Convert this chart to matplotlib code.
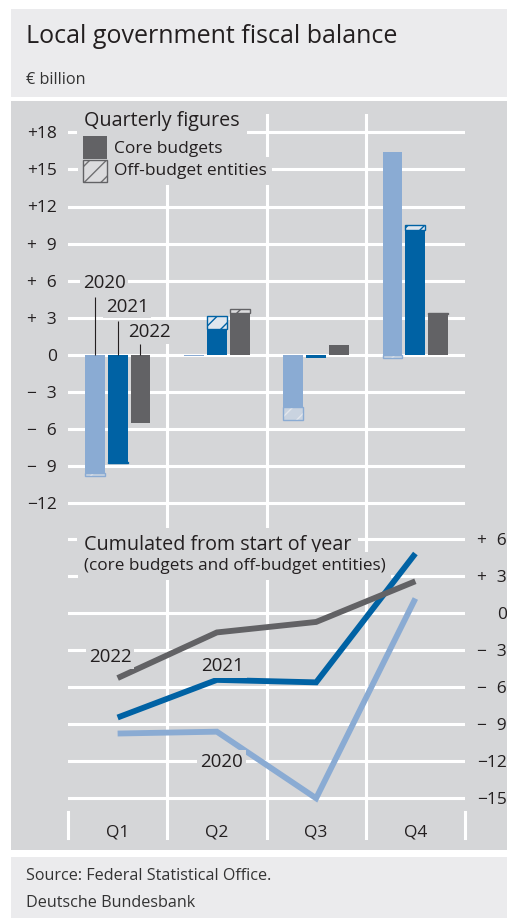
import numpy as np
import matplotlib
matplotlib.use("Agg")
import matplotlib.pyplot as plt
from matplotlib.patches import Rectangle
from matplotlib.transforms import Affine2D

plt.rcParams['font.family'] = ['Open Sans', 'DejaVu Sans']
plt.rcParams['hatch.linewidth'] = 1.0

# ---- data (EUR billion) ----
quarters = ["Q1", "Q2", "Q3", "Q4"]
years = ["2020", "2021", "2022"]

core_2020 = [-9.6, -0.1, -4.2, 16.4]
off_2020 = [-0.2, 0.0, -1.1, -0.3]
core_2021 = [-8.7, 2.1, -0.3, 10.1]
off_2021 = [-0.05, 1.0, 0.0, 0.4]
core_2022 = [-5.5, 3.4, 0.8, 3.3]
off_2022 = [0.0, 0.3, 0.0, 0.1]

cum_2020 = [-9.8, -9.65, -15.05, 1.15]
cum_2021 = [-8.5, -5.45, -5.65, 4.8]
cum_2022 = [-5.3, -1.6, -0.75, 2.55]

top_ticks = np.arange(-12, 19, 3)
bottom_ticks = np.arange(-15, 7, 3)

# ---- colours ----
INK = "#231f20"
LIGHT = "#ebebed"
PANEL = "#d5d6d8"
C2020 = "#8aabd3"
C2021 = "#0062a4"
C2022 = "#626265"

W, H = 507, 918
fig = plt.figure(figsize=(W / 100, H / 100), dpi=100)
fig.patch.set_facecolor("white")

# pixel coordinates, origin top left
PX = Affine2D().scale(1 / W, -1 / H).translate(0, 1) + fig.transFigure


def box(x0, y0, x1, y1, **kw):
    r = Rectangle((x0, y0), x1 - x0, y1 - y0, transform=PX, **kw)
    fig.add_artist(r)
    return r


def axes_px(x0, y0, x1, y1):
    return fig.add_axes([x0 / W, 1 - y1 / H, (x1 - x0) / W, (y1 - y0) / H])


def signed(v):
    if v == 0:
        return "0"
    sign = "+" if v > 0 else "\u2212"
    n = abs(int(v))
    return sign + (str(n) if n >= 10 else "\u2007" + str(n))


box(11, 9, 507, 97, facecolor=LIGHT, edgecolor="none", zorder=0)
box(11, 101, 507, 850, facecolor=PANEL, edgecolor="none", zorder=0)
box(11, 857, 507, 918, facecolor=LIGHT, edgecolor="none", zorder=0)

fig.text(26, 43, "Local government fiscal balance", transform=PX,
         fontsize=18, color=INK, va="baseline")
fig.text(26, 84, "\u20ac billion", transform=PX, fontsize=11.7,
         color="#333333", va="baseline")
fig.text(26, 876, "Source: Federal Statistical Office.", transform=PX,
         fontsize=11.6, color="#333333", va="center")
fig.text(26, 903, "Deutsche Bundesbank", transform=PX,
         fontsize=11.6, color="#333333", va="center")

x = np.arange(len(quarters))
offsets = [-0.23, 0.0, 0.23]
bar_w = 0.2
label_bg = dict(facecolor=PANEL, edgecolor="none", pad=2)


def style_axes(ax, ticks, side):
    ax.set_facecolor("none")
    for s in ax.spines.values():
        s.set_visible(False)
    ax.set_xlim(-0.5, 3.5)
    ax.set_xticks([0.5, 1.5, 2.5], minor=True)
    ax.set_yticks(ticks)
    ax.set_yticklabels([signed(t) for t in ticks])
    ax.grid(axis="y", color="white", lw=2.2)
    ax.grid(axis="x", which="minor", color="white", lw=2.2)
    ax.set_axisbelow(True)
    ax.tick_params(which="both", length=0)
    ax.tick_params(axis="y", labelsize=12.5, labelcolor=INK)
    if side == "right":
        ax.yaxis.tick_right()
        ax.tick_params(axis="y", pad=30)
        for lab in ax.get_yticklabels():
            lab.set_horizontalalignment("right")
    else:
        ax.tick_params(axis="y", pad=8)


# ---- quarterly bars ----
ax = axes_px(68, 114, 465, 527)
style_axes(ax, top_ticks, "left")
ax.set_ylim((354.7 - 527) / 12.35, (354.7 - 114) / 12.35)
ax.set_xticks([])

series = [
    (core_2020, off_2020, C2020, "#c9d3e0", "#e2e6ec"),
    (core_2021, off_2021, C2021, "#dfe6ee", C2021),
    (core_2022, off_2022, C2022, "#dcdcde", C2022),
]
for (core, off, col, hface, hline), o in zip(series, offsets):
    core = np.array(core)
    off = np.array(off)
    ax.bar(x + o, core, bar_w, color=col, lw=0, zorder=2)
    base = np.where(np.sign(off) == np.sign(core), core, 0)
    m = off != 0
    ax.bar(x[m] + o, off[m], bar_w, bottom=base[m], facecolor=hface,
           edgecolor=hline, hatch="//", lw=0, zorder=2)
    ax.bar(x[m] + o, off[m], bar_w, bottom=base[m], facecolor="none",
           edgecolor=col, lw=1, zorder=2)

# year labels with leaders over the Q1 group
label_y = [5.83, 3.89, 1.84]
leader_top = [4.7, 2.75, 0.87]
for yr, o, ly, lt in zip(years, offsets, label_y, leader_top):
    ax.vlines(o, 0, lt, color=INK, lw=0.8, zorder=3)
    ax.text(o - 0.12, ly, yr, fontsize=13.5, color=INK, va="center",
            ha="left", bbox=label_bg, zorder=4)

ax.text(84, 121, "Quarterly figures", transform=PX, fontsize=14.2,
        color=INK, va="center", zorder=4,
        bbox=dict(facecolor=PANEL, edgecolor="none", pad=5))
box(78, 131, 112, 187, facecolor=PANEL, edgecolor="none", zorder=4)
box(83, 136, 107, 159, facecolor=C2022, edgecolor="none", zorder=5)
box(83, 160, 107, 182, facecolor="#dcdcde", edgecolor="#707072",
    hatch="//", lw=0, zorder=5)
box(83, 160, 107, 182, facecolor="none", edgecolor=C2022, lw=1, zorder=5)
ax.text(114, 149, "Core budgets", transform=PX, fontsize=12.5,
        color=INK, va="center", zorder=4,
        bbox=dict(facecolor=PANEL, edgecolor="none", pad=4))
ax.text(114, 171, "Off-budget entities", transform=PX, fontsize=12.5,
        color=INK, va="center", zorder=4,
        bbox=dict(facecolor=PANEL, edgecolor="none", pad=4))

# ---- cumulated lines ----
ax2 = axes_px(68, 527, 465, 840)
style_axes(ax2, bottom_ticks, "right")
ax2.set_ylim((612.7 - 840) / 12.33, (612.7 - 527) / 12.33)
ax2.set_xticks(x)
ax2.set_xticklabels(quarters)
ax2.tick_params(axis="x", pad=-11, labelsize=12.5, labelcolor=INK)
ax2.grid(axis="x", which="major", visible=False)
for edge in (-0.5, 3.5):
    ax2.axvline(edge, 2 / 313, 28 / 313, color="white", lw=2.2, clip_on=False)
ax2.set_xlim(-0.5, 3.5)

for cum, col in ((cum_2020, C2020), (cum_2021, C2021), (cum_2022, C2022)):
    ax2.plot(x, cum, color=col, lw=4.2, solid_capstyle="butt",
             solid_joinstyle="miter", zorder=2)

ax2.text(-0.29, -3.6, "2022", fontsize=13.5, color=INK, va="center",
         bbox=label_bg, zorder=4)
ax2.text(0.84, -4.3, "2021", fontsize=13.5, color=INK, va="center",
         bbox=label_bg, zorder=4)
ax2.text(0.83, -12.1, "2020", fontsize=13.5, color=INK, va="center",
         bbox=label_bg, zorder=4)

ax2.text(84, 545, "Cumulated from start of year", transform=PX,
         fontsize=14.2, color=INK, va="center", zorder=4,
         bbox=dict(facecolor=PANEL, edgecolor="none", pad=5))
ax2.text(84, 566, "(core budgets and off-budget entities)", transform=PX,
         fontsize=12.3, color=INK, va="center", zorder=4,
         bbox=dict(facecolor=PANEL, edgecolor="none", pad=4))

fig.savefig("out.png", dpi=100)
